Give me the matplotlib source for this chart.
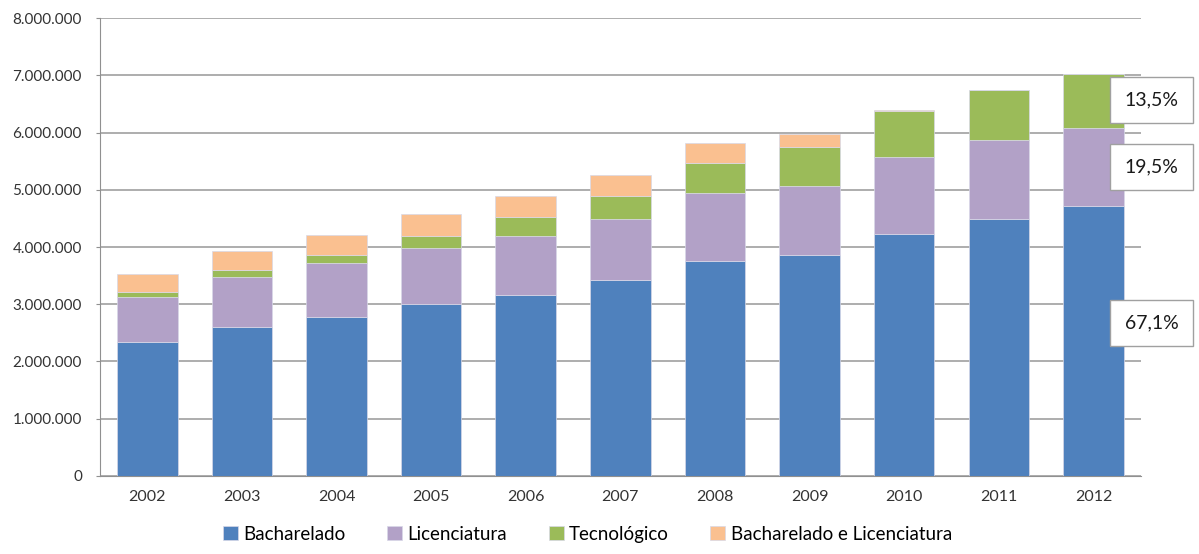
import matplotlib.pyplot as plt
from matplotlib.ticker import FuncFormatter

anos = ['2002', '2003', '2004', '2005', '2006', '2007', '2008', '2009', '2010', '2011', '2012']

# valores acumulados (matriculas)
bacharelado = [2340000, 2600000, 2780000, 3000000, 3160000, 3420000, 3760000, 3860000, 4230000, 4490000, 4710000]
licenciatura = [790000, 880000, 940000, 980000, 1030000, 1070000, 1180000, 1210000, 1340000, 1380000, 1370000]
tecnologico = [80000, 120000, 140000, 210000, 330000, 400000, 530000, 680000, 810000, 870000, 950000]
bach_lic = [320000, 330000, 350000, 390000, 370000, 370000, 350000, 220000, 20000, 0, 0]

rotulos_2012 = ['67,1%', '19,5%', '13,5%']
posicoes_rotulos = [2670000, 5400000, 6570000]

cores = ['#4F81BD', '#B2A1C7', '#9BBB59', '#FAC090']
series = [bacharelado, licenciatura, tecnologico, bach_lic]
nomes = ['Bacharelado', 'Licenciatura', 'Tecnológico', 'Bacharelado e Licenciatura']

plt.rcParams['font.family'] = ['Lato', 'DejaVu Sans']

fig = plt.figure(figsize=(11.99, 5.54), dpi=100)
ax = fig.add_axes([0.0834, 0.1408, 0.868, 0.8267])

x = range(len(anos))
base = [0] * len(anos)
for valores, cor, nome in zip(series, cores, nomes):
    ax.bar(x, valores, bottom=base, width=0.64, color=cor, label=nome,
           edgecolor='#d8d8e8', linewidth=0.5, zorder=3)
    base = [b + v for b, v in zip(base, valores)]

ax.set_ylim(0, 8000000)
ax.set_xlim(-0.5, len(anos) - 0.5)
ax.set_yticks(range(0, 8000001, 1000000))
ax.yaxis.set_major_formatter(FuncFormatter(lambda v, p: f'{int(v):,}'.replace(',', '.')))
ax.set_xticks(list(x))
ax.set_xticklabels(anos)
ax.tick_params(axis='y', labelsize=11, colors='#333333', length=3, color='#909090', pad=10)
ax.tick_params(axis='x', labelsize=11.5, colors='#333333', length=0, pad=10)
ax.grid(axis='y', color='#a0a0a0', linewidth=1.2, zorder=0)
for lado in ['top', 'right']:
    ax.spines[lado].set_visible(False)
for lado in ['left', 'bottom']:
    ax.spines[lado].set_color('#909090')

for texto, y in zip(rotulos_2012, posicoes_rotulos):
    ax.text(10.33, y, texto, fontsize=14, color='#1a1a1a', va='center', ha='left',
            bbox=dict(boxstyle='square,pad=0.75', facecolor='white', edgecolor='#a0a0a0', linewidth=1),
            zorder=5, clip_on=False)

fig.legend(loc='lower center', bbox_to_anchor=(0.49, -0.01), ncol=4, frameon=False,
           fontsize=13.5, handlelength=0.8, handleheight=0.8, columnspacing=2.2, handletextpad=0.3)

fig.savefig('out.png', dpi=100)
